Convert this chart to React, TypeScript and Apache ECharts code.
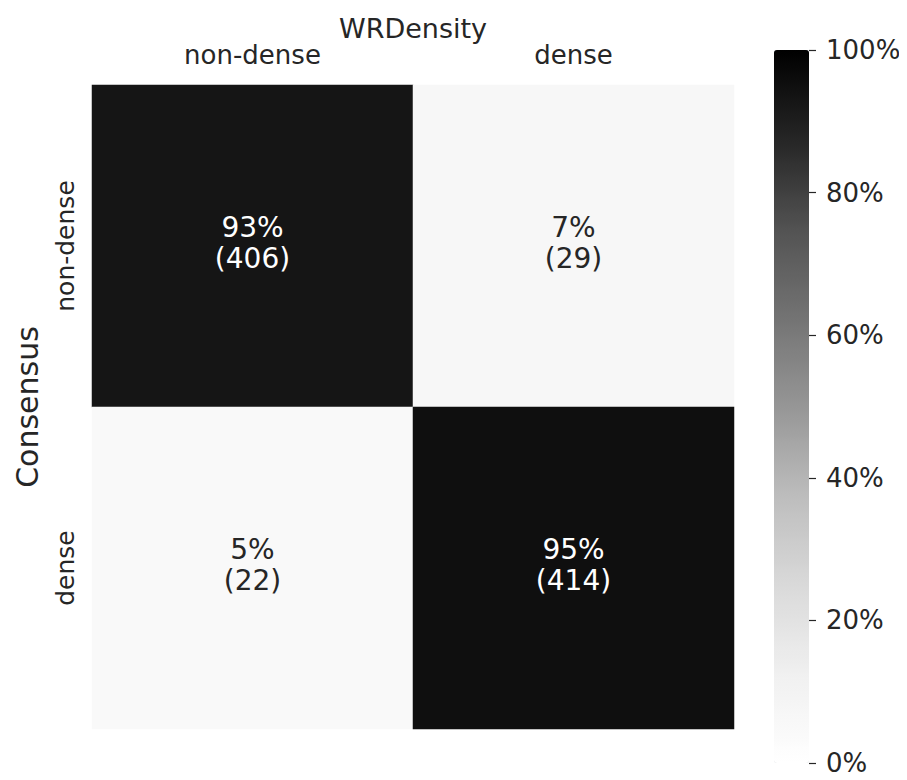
import React, { useEffect, useRef } from "react";
import * as echarts from "echarts";

const xCategories = ["non-dense", "dense"];
const yCategories = ["non-dense", "dense"];
const xTitle = "WRDensity";
const yTitle = "Consensus";
// row-normalised percentages [row][col]
const percents = [
  [93, 7],
  [5, 95],
];
// raw counts [row][col]
const counts = [
  [406, 29],
  [22, 414],
];
const colorbarTicks = [0, 20, 40, 60, 80, 100];

const greys = ["#ffffff", "#f0f0f0", "#d9d9d9", "#bdbdbd", "#969696", "#737373", "#525252", "#252525", "#000000"];
const FONT = "DejaVu Sans";
const TXT = "#262626";

export default function App() {
  const ref = useRef<HTMLDivElement>(null);
  useEffect(() => {
    if (!ref.current) return;
    const chart = echarts.init(ref.current, null, { renderer: "svg" });
    const data: any[] = [];
    percents.forEach((row, r) =>
      row.forEach((p, c) => {
        data.push({
          value: [c, r, p, counts[r][c]],
          label: { color: p > 50 ? "#ffffff" : TXT },
        });
      })
    );
    chart.setOption({
      animation: false,
      textStyle: { fontFamily: FONT },
      grid: [
        { left: 92, right: 173, top: 85, bottom: 51 },
        { left: 774, top: 50, width: 35, height: 713 },
      ],
      xAxis: [
        {
          type: "category",
          data: xCategories,
          position: "top",
          gridIndex: 0,
          axisLine: { show: false },
          axisTick: { show: false },
          splitLine: { show: false },
          axisLabel: { fontSize: 26, color: TXT, margin: 17, fontFamily: FONT },
          name: xTitle,
          nameLocation: "middle",
          nameMoveOverlap: false,
          nameGap: 47,
          nameTextStyle: { fontSize: 27, lineHeight: 20, color: TXT, fontFamily: FONT },
        },
        { type: "value", gridIndex: 1, show: false, min: 0, max: 1 },
      ],
      yAxis: [
        {
          type: "category",
          data: yCategories,
          inverse: true,
          gridIndex: 0,
          axisLine: { show: false },
          axisTick: { show: false },
          splitLine: { show: false },
          axisLabel: { fontSize: 25, color: TXT, margin: 14, rotate: 90, fontFamily: FONT },
          name: yTitle,
          nameLocation: "middle",
          nameRotate: 90,
          nameGap: 50,
          nameTextStyle: { fontSize: 30, color: TXT, fontFamily: FONT },
        },
        {
          type: "value",
          gridIndex: 1,
          position: "right",
          min: 0,
          max: 100,
          interval: 20,
          z: 10,
          axisLine: { show: false, onZero: false },
          axisTick: { show: true, inside: false, length: 7, lineStyle: { color: TXT, width: 1.2 } },
          splitLine: { show: false },
          axisLabel: {
            fontSize: 26,
            color: TXT,
            margin: 17,
            fontFamily: FONT,
            formatter: (v: number) => (colorbarTicks.includes(v) ? v + "%" : ""),
          },
        },
      ],
      visualMap: {
        type: "continuous",
        min: 0,
        max: 100,
        show: true,
        calculable: false,
        seriesIndex: 0,
        dimension: 2,
        itemWidth: 35,
        itemHeight: 713,
        left: 774,
        top: 50,
        padding: 0,
        text: null,
        z: 1,
        inRange: { color: greys },
      },
      series: [
        {
          type: "heatmap",
          xAxisIndex: 0,
          yAxisIndex: 0,
          data,
          label: {
            show: true,
            fontSize: 28,
            lineHeight: 31,
            offset: [0, -3],
            fontFamily: FONT,
            formatter: (p: any) => `${p.value[2]}%\n(${p.value[3]})`,
          },
          itemStyle: { borderWidth: 0 },
          emphasis: { disabled: true },
        },
      ],
    });
    return () => chart.dispose();
  }, []);
  return <div ref={ref} style={{ width: 907, height: 780, margin: -8, background: "#fff" }} />;
}
